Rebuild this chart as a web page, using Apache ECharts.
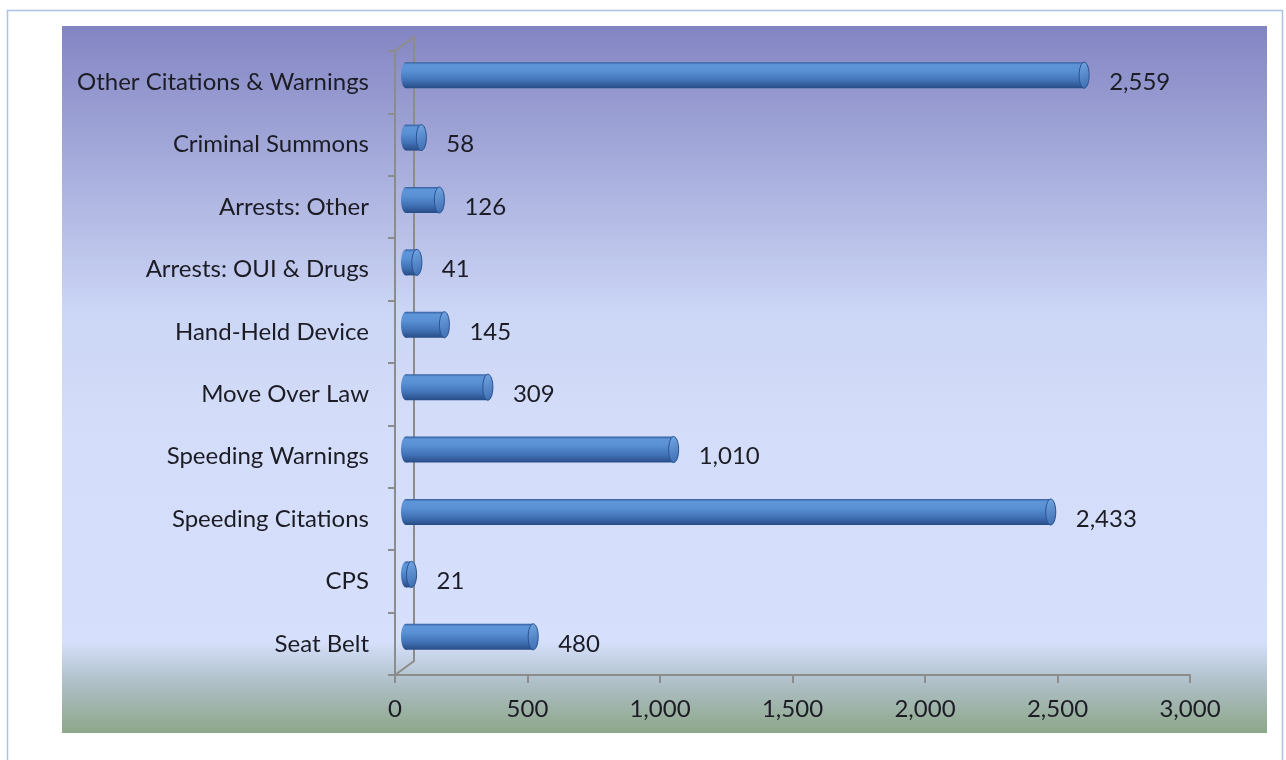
<!DOCTYPE html>
<html><head><meta charset="utf-8">
<script src="https://cdn.jsdelivr.net/npm/echarts@6/dist/echarts.min.js"></script>
<style>html,body{margin:0;padding:0;background:#fff}#c{width:1286px;height:760px}</style>
</head><body><div id="c"></div>
<script>
const categories = ['Other Citations & Warnings','Criminal Summons','Arrests: Other','Arrests: OUI & Drugs','Hand-Held Device','Move Over Law','Speeding Warnings','Speeding Citations','CPS','Seat Belt'];
const values = [2559, 58, 126, 41, 145, 309, 1010, 2433, 21, 480];
const xTicks = [0, 500, 1000, 1500, 2000, 2500, 3000];

const FONT = 'Lato';
const FS = 24;
const G = {left: 395, right: 96, top: 51, bottom: 85};
const DEPTH_X = 19, DEPTH_Y = 14;
const chart = echarts.init(document.getElementById('c'), null, {renderer: 'canvas'});
const W = 1286, H = 760;
const gx0 = G.left, gx1 = W - G.right, gy0 = G.top, gy1 = H - G.bottom;

const bodyGrad = {type: 'linear', x: 0, y: 0, x2: 0, y2: 1, colorStops: [
  {offset: 0, color: '#345f9e'}, {offset: 0.1, color: '#5f96da'}, {offset: 0.35, color: '#5990d4'},
  {offset: 0.7, color: '#4272b7'}, {offset: 1, color: '#274c86'}]};
const capGrad = {type: 'linear', x: 0, y: 0, x2: 1, y2: 1, colorStops: [
  {offset: 0, color: '#74a8e4'}, {offset: 1, color: '#3b6bb0'}]};

chart.setOption({
  animation: false,
  graphic: [
    {type: 'rect', z: -10, silent: true, shape: {x: 62, y: 26, width: 1205, height: 707},
     style: {fill: {type: 'linear', x: 0, y: 0, x2: 0, y2: 1, colorStops: [
       {offset: 0, color: '#8385c3'}, {offset: 0.4, color: '#cbd5f5'}, {offset: 0.55, color: '#d3ddf9'},
       {offset: 0.87, color: '#d6e0fc'}, {offset: 0.93, color: '#aebfc6'}, {offset: 1, color: '#8da789'}]}}},
    {type: 'rect', z: -11, silent: true, shape: {x: 7.5, y: 10.5, width: 1275, height: 760},
     style: {fill: 'none', stroke: '#a9c3e6', lineWidth: 1.5}},
    {type: 'polyline', z: 1, silent: true,
     shape: {points: [[gx0, gy0], [gx0 + DEPTH_X, gy0 - DEPTH_Y], [gx0 + DEPTH_X, gy1 - DEPTH_Y], [gx0, gy1]]},
     style: {fill: 'none', stroke: '#8c8c8c', lineWidth: 2}}
  ],
  grid: {left: G.left, right: G.right, top: G.top, bottom: G.bottom, containLabel: false},
  xAxis: {
    type: 'value', min: 0, max: 3000, interval: 500,
    axisLine: {show: true, lineStyle: {color: '#8c8c8c', width: 2}},
    axisTick: {show: true, length: 8, lineStyle: {color: '#8c8c8c', width: 2}},
    splitLine: {show: false},
    axisLabel: {margin: 22, fontFamily: FONT, fontSize: FS, color: '#1c1c24',
      formatter: v => xTicks.includes(v) ? v.toLocaleString('en-US') : ''}
  },
  yAxis: {
    type: 'category', data: categories, inverse: true,
    axisLine: {show: true, lineStyle: {color: '#8c8c8c', width: 2}},
    axisTick: {show: true, length: 7, lineStyle: {color: '#8c8c8c', width: 2}},
    axisLabel: {margin: 26, fontFamily: FONT, fontSize: FS, color: '#1c1c24'}
  },
  series: [{
    type: 'custom',
    data: values.map((v, i) => [i, v]),
    encode: {x: 1, y: 0},
    renderItem: function (params, api) {
      const i = api.value(0), v = api.value(1);
      const p0 = api.coord([0, i]), p1 = api.coord([v, i]);
      const h = 26, r = 5, dx = 11, dy = -7;
      const xs = p0[0] + dx, xe = p1[0] + dx, cy = p0[1] + dy;
      return {type: 'group', children: [
        {type: 'ellipse', shape: {cx: xs, cy: cy, rx: r, ry: h / 2}, style: {fill: bodyGrad}},
        {type: 'rect', shape: {x: xs, y: cy - h / 2, width: Math.max(xe - xs, 0.5), height: h}, style: {fill: bodyGrad}},
        {type: 'ellipse', shape: {cx: xe, cy: cy, rx: r, ry: h / 2}, style: {fill: capGrad, stroke: '#2a5190', lineWidth: 1}},
        {type: 'text', style: {x: xe + r + 20, y: p0[1], text: v.toLocaleString('en-US'),
          fontFamily: FONT, fontSize: FS, fill: '#1c1c24', verticalAlign: 'middle', align: 'left'}}
      ]};
    }
  }]
});
</script></body></html>
